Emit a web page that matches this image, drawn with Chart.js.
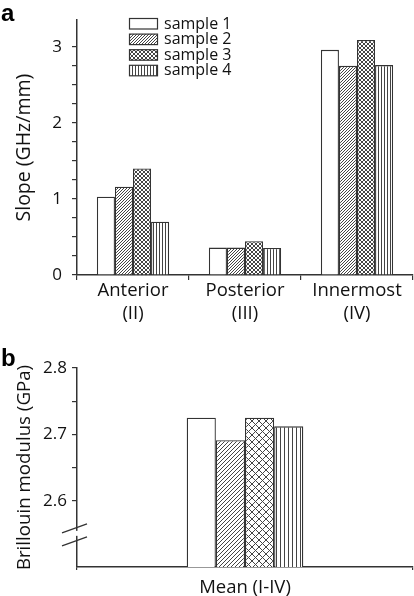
<!DOCTYPE html>
<html lang="en">
<head>
<meta charset="UTF-8">
<title>Slope and Brillouin modulus</title>
<script src="https://cdn.jsdelivr.net/npm/chart.js"></script>
<style>
    html, body {
        margin: 0;
        padding: 0;
        background: #fff;
    }
    #wrap {
        position: relative;
        width: 414px;
        height: 596px;
        overflow: hidden;
    }
    canvas {
        position: absolute;
        left: 0;
    }
    #chartA { top: 0; }
    #chartB { top: 330px; }
    .panel {
        position: absolute;
        left: 1px;
        font: bold 24px "Liberation Sans", Arial, sans-serif;
        line-height: 24px;
        color: #000;
    }
</style>
</head>
<body>
<div id="wrap">
    <canvas id="chartA" width="414" height="330"></canvas>
    <canvas id="chartB" width="414" height="266"></canvas>
    <div class="panel" style="top:1px">a</div>
    <div class="panel" style="top:346px">b</div>
</div>

<script>
// panel a data
const regions = [['Anterior', '(II)'], ['Posterior', '(III)'], ['Innermost', '(IV)']];
const sampleNames = ['sample 1', 'sample 2', 'sample 3', 'sample 4'];
const slopeS1 = [1.03, 0.36, 2.96];
const slopeS2 = [1.16, 0.36, 2.75];
const slopeS3 = [1.40, 0.445, 3.09];
const slopeS4 = [0.70, 0.355, 2.76];

// panel b data
const meanLabel = ['Mean (I-IV)'];
const modS1 = [2.725];
const modS2 = [2.691];
const modS3 = [2.725];
const modS4 = [2.712];

const INK = '#333';
const FONT = '"Open Sans", "DejaVu Sans", sans-serif';

function makePattern(kind, s) {
    const c = document.createElement('canvas');
    c.width = s;
    c.height = s;
    const g = c.getContext('2d');
    g.fillStyle = '#fff';
    g.fillRect(0, 0, s, s);
    g.strokeStyle = '#444';
    g.lineWidth = 1;
    if (kind === 'vert') {
        g.beginPath();
        g.moveTo(0.5, 0);
        g.lineTo(0.5, s);
        g.stroke();
    } else {
        g.beginPath();
        // "/" lines
        g.moveTo(-1, s + 1); g.lineTo(s + 1, -1);
        g.moveTo(-1, 1); g.lineTo(1, -1);
        g.moveTo(s - 1, s + 1); g.lineTo(s + 1, s - 1);
        if (kind === 'cross') {
            g.moveTo(-1, -1); g.lineTo(s + 1, s + 1);
            g.moveTo(s - 1, -1); g.lineTo(s + 1, 1);
            g.moveTo(-1, s - 1); g.lineTo(1, s + 1);
        }
        g.stroke();
    }
    return g.createPattern(c, 'repeat');
}

const ctxA = document.getElementById('chartA').getContext('2d');
const ctxB = document.getElementById('chartB').getContext('2d');

const fillsA = ['#fff', makePattern('diag', 3), makePattern('cross', 4), makePattern('vert', 3)];
const fillsB = ['#fff', makePattern('diag', 4), makePattern('cross', 7), makePattern('vert', 4)];

function datasets(series, fills, catPct) {
    return series.map((d, i) => ({
        label: sampleNames[i],
        data: d,
        backgroundColor: fills[i],
        borderColor: INK,
        borderWidth: 1.3,
        borderSkipped: 'bottom',
        barPercentage: 1,
        categoryPercentage: catPct
    }));
}

// legend drawn inside the plot of panel a
const legendPlugin = {
    id: 'boxLegend',
    afterDraw(chart) {
        const c = chart.ctx;
        c.save();
        chart.data.datasets.forEach((ds, i) => {
            const y = 18.5 + i * 15.6;
            c.fillStyle = ds.backgroundColor;
            c.fillRect(129.5, y, 28, 10.5);
            c.strokeStyle = INK;
            c.lineWidth = 1.2;
            c.strokeRect(129.5, y, 28, 10.5);
            c.fillStyle = '#111';
            c.font = '16px ' + FONT;
            c.textBaseline = 'middle';
            c.fillText(ds.label, 164, y + 5.5);
        });
        c.restore();
    }
};

// axis break mark on panel b
const breakPlugin = {
    id: 'axisBreak',
    afterDraw(chart) {
        const c = chart.ctx;
        const x = chart.chartArea.left;
        const y = chart.scales.y.getPixelForValue(2.55);
        c.save();
        c.fillStyle = '#fff';
        c.fillRect(x - 3, y - 3, 6, 5);
        c.strokeStyle = INK;
        c.lineWidth = 1.3;
        c.beginPath();
        c.moveTo(x - 15, y - 1);
        c.lineTo(x + 10, y - 10);
        c.moveTo(x - 15, y + 12);
        c.lineTo(x + 10, y + 3);
        c.stroke();
        c.restore();
    }
};

function yAxis(min, max, step, title, titleSize, labelPad, fmt, keep) {
    return {
        min: min,
        max: max,
        afterBuildTicks: s => { s.ticks = s.ticks.filter(t => keep(t.value)); },
        afterFit: s => { s.width = 77; },
        ticks: {
            stepSize: step,
            autoSkip: false,
            padding: labelPad,
            color: '#111',
            font: { family: FONT, size: 17 },
            callback: fmt
        },
        grid: { drawOnChartArea: false, color: INK, lineWidth: 1.2, tickLength: 5 },
        border: { color: INK, width: 1.5 },
        title: {
            display: true,
            text: title,
            color: '#111',
            font: { family: FONT, size: titleSize },
            padding: { top: 13, bottom: 0 }
        }
    };
}

function xAxis(height, tickLen, pad) {
    return {
        afterFit: s => { s.height = height; },
        ticks: {
            padding: pad,
            color: '#111',
            font: { family: FONT, size: 18.5 },
            maxRotation: 0
        },
        grid: { offset: true, drawOnChartArea: false, color: INK, lineWidth: 1.2, tickLength: tickLen },
        border: { color: INK, width: 1.5 }
    };
}

new Chart(ctxA, {
    type: 'bar',
    data: { labels: regions, datasets: datasets([slopeS1, slopeS2, slopeS3, slopeS4], fillsA, 0.645) },
    options: {
        responsive: false,
        animation: false,
        layout: { padding: { top: 4, right: 1, left: 0, bottom: 0 } },
        plugins: { legend: { display: false }, tooltip: { enabled: false } },
        scales: {
            x: xAxis(55, 5, 0),
            y: yAxis(0, 3.35, 0.25, 'Slope (GHz/mm)', 19.5, 10,
                v => Math.abs(v - Math.round(v)) < 1e-6 ? Math.round(v) : '',
                v => Math.abs(v * 4 - Math.round(v * 4)) < 1e-6)
        }
    },
    plugins: [legendPlugin]
});

new Chart(ctxB, {
    type: 'bar',
    data: { labels: meanLabel, datasets: datasets([modS1, modS2, modS3, modS4], fillsB, 0.347) },
    options: {
        responsive: false,
        animation: false,
        layout: { padding: { top: 38, right: 1, left: 0, bottom: 0 } },
        plugins: { legend: { display: false }, tooltip: { enabled: false } },
        scales: {
            x: xAxis(29, 3, 7),
            y: yAxis(2.5, 2.8, 0.05, 'Brillouin modulus (GPa)', 18.7, 5,
                v => Math.round(v * 100) % 10 === 0 ? v.toFixed(1) : '',
                v => v > 2.599)
        }
    },
    plugins: [breakPlugin]
});
</script>
</body>
</html>
